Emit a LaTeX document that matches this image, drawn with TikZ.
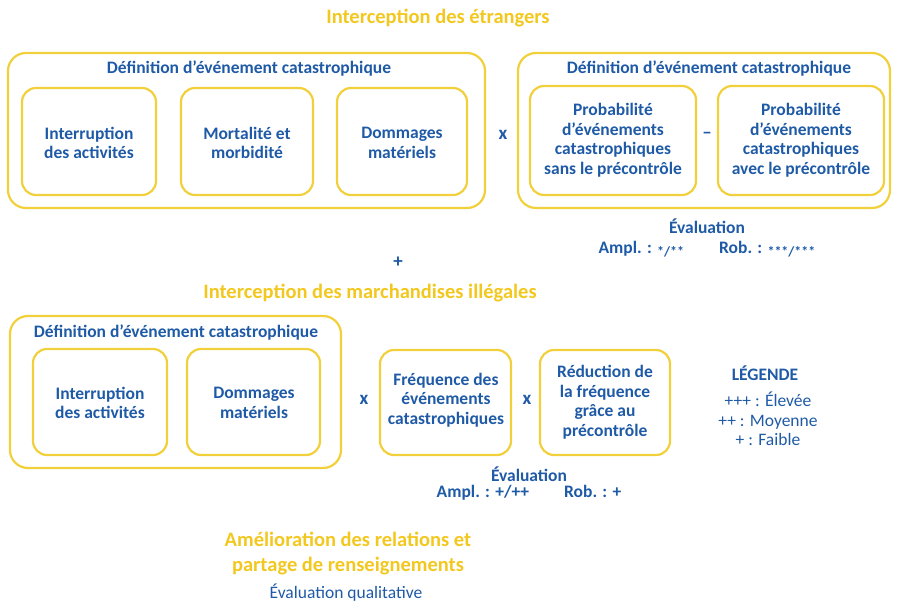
\documentclass[tikz,border=0pt]{standalone}
\usepackage{fontspec}
\setmainfont{Carlito}
\definecolor{txtblue}{HTML}{1F5AA6}
\definecolor{gold}{HTML}{F2C81F}
\definecolor{boxgold}{HTML}{F2D03C}
\tikzset{
  outer/.style={draw=boxgold, line width=2.2pt, rounded corners=18pt},
  inner/.style={draw=boxgold, line width=2.2pt, rounded corners=14pt},
  lbl/.style={text=txtblue, font=\bfseries\fontsize{17.5}{19.5}\selectfont, align=center},
  ttl/.style={text=gold, font=\bfseries\fontsize{20.5}{22}\selectfont, align=center},
  op/.style={text=txtblue, font=\bfseries\fontsize{19}{19}\selectfont}
}
\newcommand{\stars}[1]{{\fontsize{14}{14}\selectfont\raisebox{-3pt}{#1}}}
\begin{document}
\begin{tikzpicture}[x=1pt,y=-1pt]
	\useasboundingbox (0,0) rectangle (900,609);
	% first block
	\node[ttl] (t1) at (438,18) {Interception des étrangers};
	\draw[outer] (8,53) rectangle (485,208);
	\node[lbl] (d1) at (249,69) {Définition d’événement catastrophique};
	\draw[inner] (22,88) rectangle (156,195);
	\node[lbl] (a1) at (89,143) {Interruption\\des activités};
	\draw[inner] (181,88) rectangle (313,195);
	\node[lbl] (a2) at (247,143) {Mortalité et\\morbidité};
	\draw[inner] (337,88) rectangle (467,195);
	\node[lbl] (a3) at (402,143) {Dommages\\matériels};
	\node[op] (x1) at (503,135) {x};
	\draw[outer] (518,53) rectangle (890,208);
	\node[lbl] (d2) at (709,69) {Définition d’événement catastrophique};
	\draw[inner] (530,86) rectangle (696,195);
	\node[lbl] (p1) at (613,140) {Probabilité\\d’événements\\catastrophiques\\sans le précontrôle};
	\node[op] (m1) at (707,135) {–};
	\draw[inner] (718,86) rectangle (884,195);
	\node[lbl] (p2) at (801,140) {Probabilité\\d’événements\\catastrophiques\\avec le précontrôle};
	\node[lbl] (e1) at (707,226) {Évaluation};
	\node[lbl] (r1) at (707,249) {Ampl. : \stars{*/**}\qquad Rob. : \stars{***/***}};
	\node[op] (plus) at (398,262) {+};
	% second block
	\node[ttl] (t2) at (370,293) {Interception des marchandises illégales};
	\draw[outer] (10,316) rectangle (341,468);
	\node[lbl] (d3) at (176,333) {Définition d’événement catastrophique};
	\draw[inner] (33,349) rectangle (167,455);
	\node[lbl] (b1) at (100,403) {Interruption\\des activités};
	\draw[inner] (187,349) rectangle (320,455);
	\node[lbl] (b2) at (254,403) {Dommages\\matériels};
	\node[op] (x2) at (364,400) {x};
	\draw[inner] (380,350) rectangle (511,455);
	\node[lbl] (f1) at (446,400) {Fréquence des\\événements\\catastrophiques};
	\node[op] (x3) at (527,400) {x};
	\draw[inner] (540,350) rectangle (670,455);
	\node[lbl] (f2) at (605,402) {Réduction de\\la fréquence\\grâce au\\précontrôle};
	\node[lbl] (e2) at (529,474) {Évaluation};
	\node[lbl] (r2) at (529,493) {Ampl. : +/++\qquad Rob. : +};
	% legend
	\node[lbl] (leg) at (765,373) {LÉGENDE};
	\node[text=txtblue, font=\fontsize{17.5}{19.5}\selectfont, align=center] (legl) at (768,419) {+++ : Élevée\\++ : Moyenne\\+ : Faible};
	% third block
	\node[ttl, font=\bfseries\fontsize{20.5}{25}\selectfont] (t3) at (348,554) {Amélioration des relations et\\partage de renseignements};
	\node[text=txtblue, font=\fontsize{17.5}{17}\selectfont] (e3) at (346,593) {Évaluation qualitative};
\end{tikzpicture}
\end{document}
